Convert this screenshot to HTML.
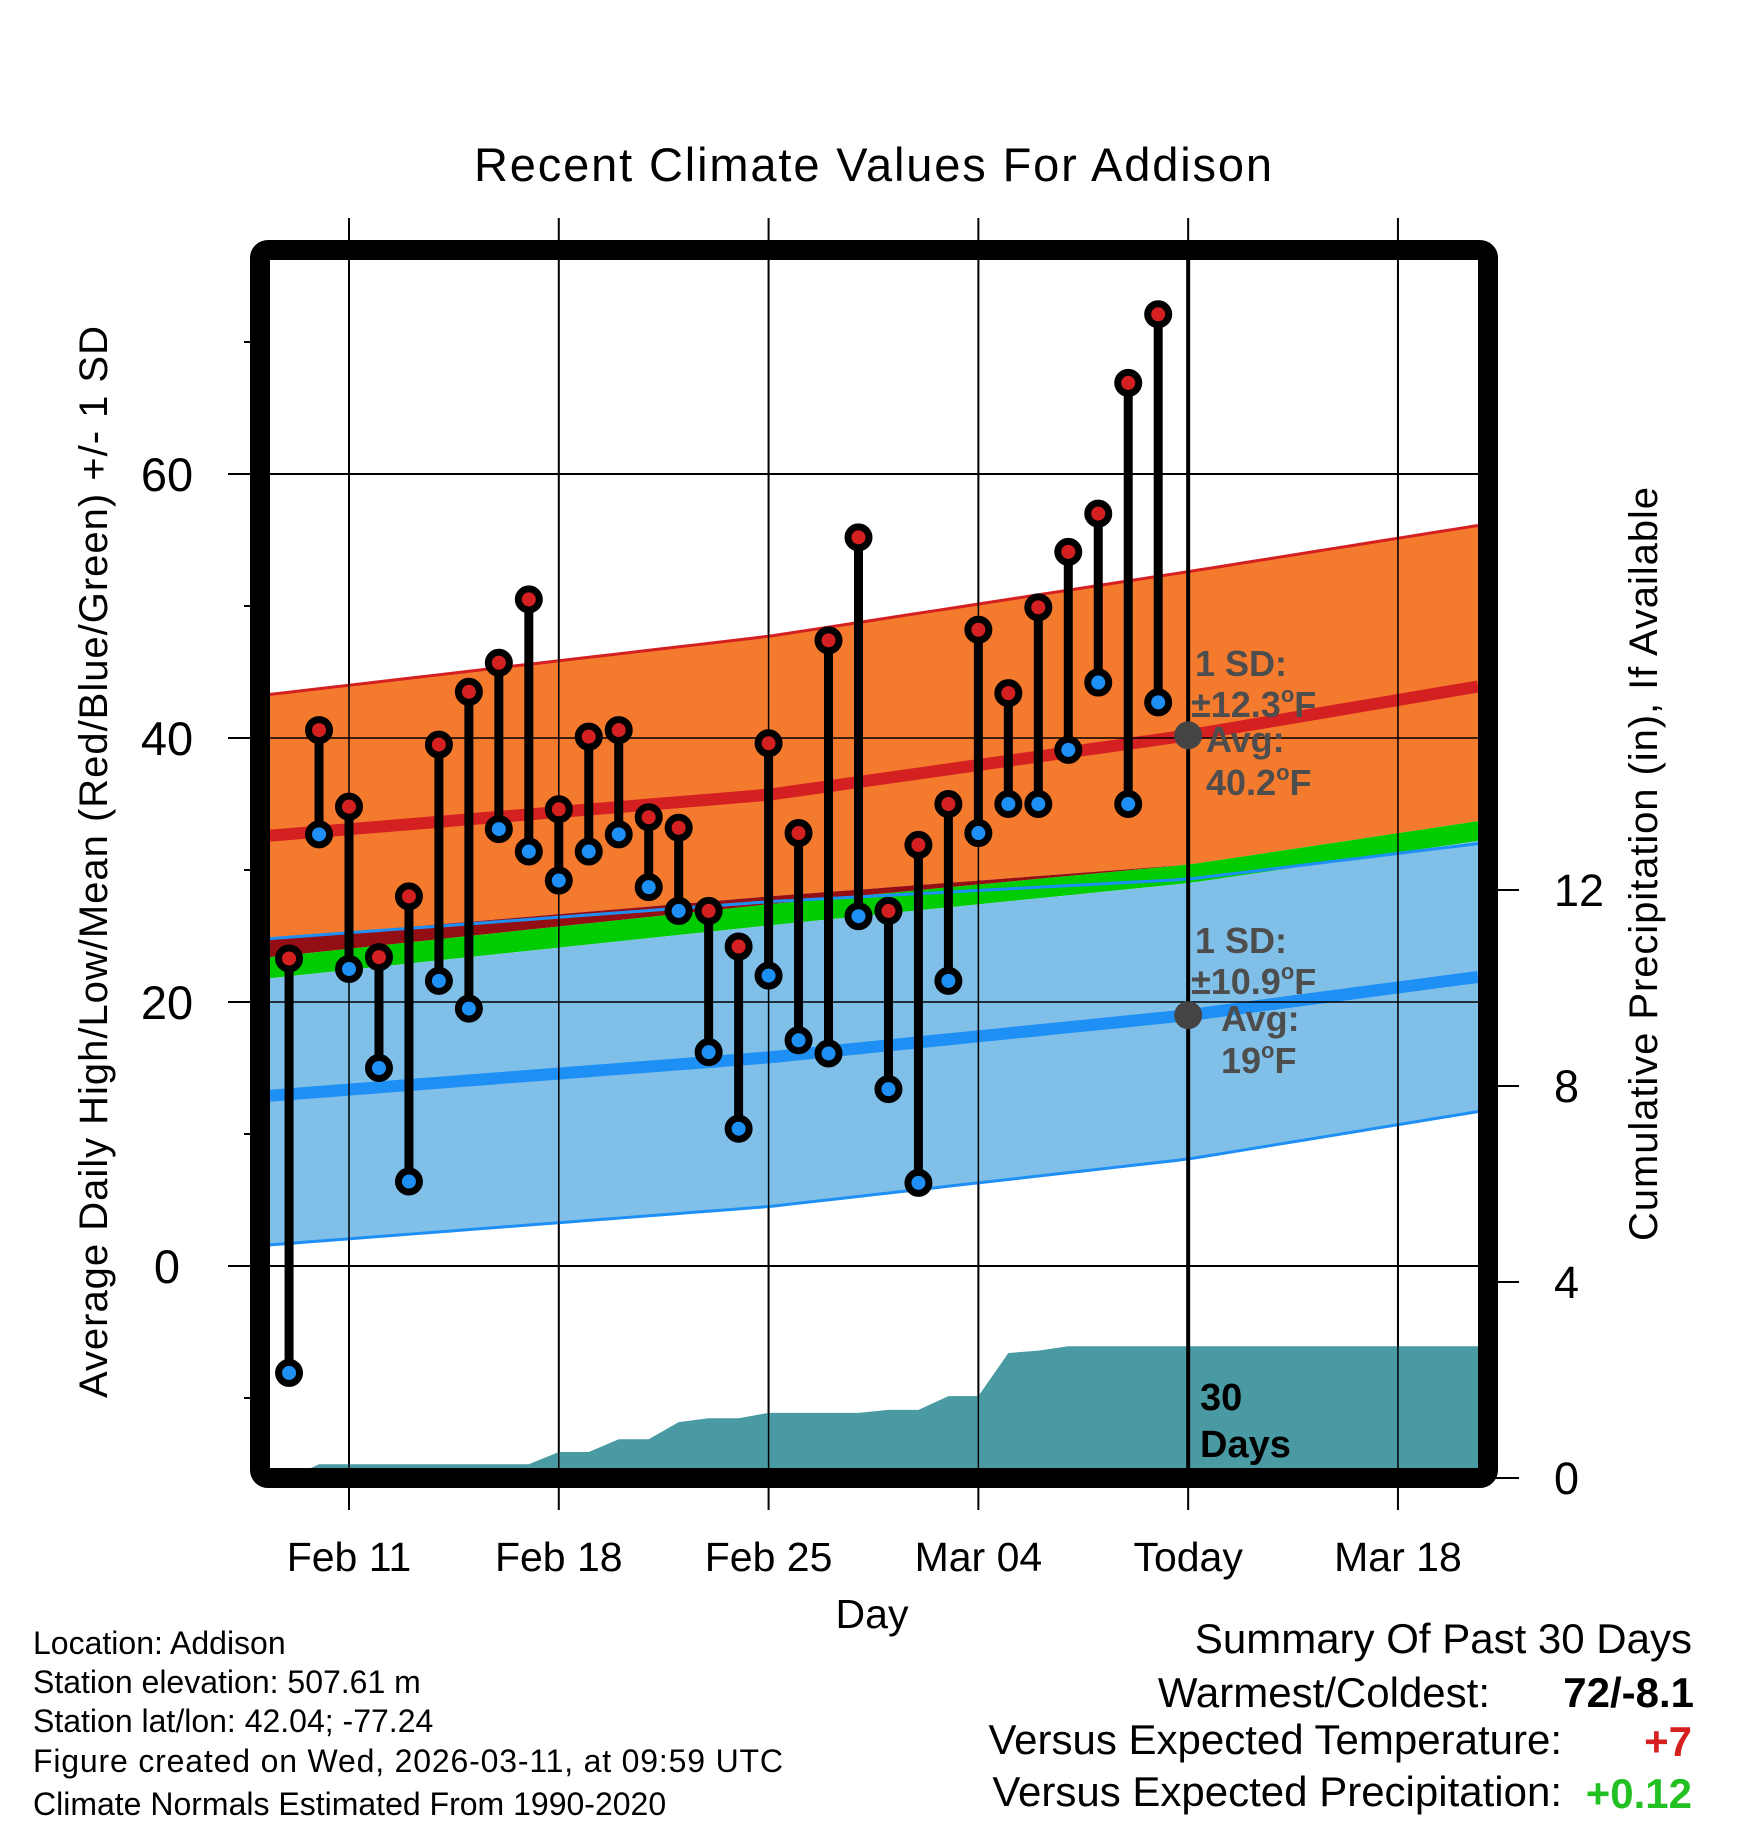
<!DOCTYPE html>
<html><head><meta charset="utf-8"><style>
html,body{margin:0;padding:0;background:#fff;}
svg{display:block;font-family:"Liberation Sans",sans-serif;}
</style></head><body>
<svg id="chart" width="1748" height="1828" viewBox="0 0 1748 1828" xmlns="http://www.w3.org/2000/svg">
<defs><clipPath id="plotclip"><rect x="270" y="260" width="1208" height="1208"/></clipPath></defs>
<text x="873" y="181" font-size="47" text-anchor="middle" textLength="798">Recent Climate Values For Addison</text>
<g id="grid"></g>
<g id="plot" clip-path="url(#plotclip)"></g>
<rect x="260" y="250" width="1228" height="1228" rx="8" fill="none" stroke="#000" stroke-width="20"/>
<g id="axes"></g>
<text transform="translate(107,862) rotate(-90)" font-size="40" text-anchor="middle" textLength="1072">Average Daily High/Low/Mean (Red/Blue/Green) +/- 1 SD</text>
<text transform="translate(1657,864) rotate(-90)" font-size="40" text-anchor="middle" textLength="754">Cumulative Precipitation (in), If Available</text>
<text x="872" y="1628" font-size="41" text-anchor="middle">Day</text>
<g font-size="32">
<text x="33" y="1654">Location: Addison</text>
<text x="33" y="1693">Station elevation: 507.61 m</text>
<text x="33" y="1732">Station lat/lon: 42.04; -77.24</text>
<text x="33" y="1772" textLength="750">Figure created on Wed, 2026-03-11, at 09:59 UTC</text>
<text x="33" y="1815">Climate Normals Estimated From 1990-2020</text>
</g>
<g font-size="42" text-anchor="end">
<text x="1692" y="1653">Summary Of Past 30 Days</text>
<text x="1490" y="1707">Warmest/Coldest:</text>
<text x="1694" y="1707" font-weight="bold">72/-8.1</text>
<text x="1562" y="1754">Versus Expected Temperature:</text>
<text x="1692" y="1756" font-weight="bold" fill="#d62020">+7</text>
<text x="1562" y="1806">Versus Expected Precipitation:</text>
<text x="1692" y="1808" font-weight="bold" fill="#22c022">+0.12</text>
</g>
</svg>
<script>
const NS="http://www.w3.org/2000/svg";
// data (day offsets relative to Feb 11)
const dayLabels=["Feb 11","Feb 18","Feb 25","Mar 04","Today","Mar 18"];
const labelDays=[0,7,14,21,28,35];
const obsDays=[-2,-1,0,1,2,3,4,5,6,7,8,9,10,11,12,13,14,15,16,17,18,19,20,21,22,23,24,25,26,27];
const highs=[23.3,40.6,34.8,23.4,28.0,39.5,43.5,45.7,50.5,34.6,40.1,40.6,34.0,33.2,26.9,24.2,39.6,32.8,47.4,55.2,26.9,31.9,35.0,48.2,43.4,49.9,54.1,57.0,66.9,72.1];
const lows=[-8.1,32.7,22.5,15.0,6.4,21.6,19.5,33.1,31.4,29.2,31.4,32.7,28.7,26.9,16.2,10.4,22.0,17.1,16.1,26.5,13.4,6.3,21.6,32.8,35.0,35.0,39.1,44.2,35.0,42.7];
const precip=[0.0,0.28,0.28,0.28,0.28,0.28,0.28,0.28,0.28,0.53,0.53,0.79,0.79,1.14,1.22,1.22,1.33,1.33,1.33,1.33,1.39,1.39,1.67,1.67,2.55,2.6,2.69,2.69,2.69,2.69];
const normDays=[-2.64,14,28,37.67];
const highUpper=[43.3,47.7,52.6,56.1];
const highMean=[32.6,35.7,40.2,43.9];
const bandA=[24.8,28.0,30.4,33.7];
const bandB=[23.4,27.4,30.4,33.7];
const bandC=[21.8,25.8,29.0,32.2];
const lowUpper=[24.8,27.6,29.3,32.0];
const lowMean=[12.9,15.8,19.0,21.9];
const lowLower=[1.6,4.5,8.1,11.7];
const yTicks=[0,20,40,60];
const yMinor=[-10,10,30,50,70];
const pTicks=[0,4,8,12];
const todayDay=28;

const X=d=>349+d*29.97;
const Y=t=>1266-13.2*t;
const P=p=>1478-49*p;
function mk(tag,attrs,parent){const e=document.createElementNS(NS,tag);for(const k in attrs)e.setAttribute(k,attrs[k]);parent.appendChild(e);return e;}
function curve(arr,n){const pts=[];for(let i=0;i<=n;i++){const d=normDays[0]+(normDays[3]-normDays[0])*i/n;let k=0;while(k<normDays.length-2&&d>normDays[k+1])k++;const f=(d-normDays[k])/(normDays[k+1]-normDays[k]);pts.push([X(d),Y(arr[k]+(arr[k+1]-arr[k])*f)]);}return pts;}
function band(top,bot){const a=curve(top,60),b=curve(bot,60).reverse();return a.concat(b).map(p=>p.join(',')).join(' ');}
function line(arr){return curve(arr,60).map(p=>p.join(',')).join(' ');}

const grid=document.getElementById('grid'),plot=document.getElementById('plot'),axes=document.getElementById('axes');
let e;
e=mk('polygon',{points:band(highUpper,bandA),fill:'#f47a2e'},plot);


e=mk('polygon',{points:band(bandA,bandB),fill:'#930f14'},plot);


e=mk('polygon',{points:band(bandB,bandC),fill:'#00cc00'},plot);


e=mk('polygon',{points:band(bandC,lowLower),fill:'#80c0e8'},plot);


e=mk('polyline',{points:line(highUpper),fill:'none',stroke:'#d42020','stroke-width':3},plot);


e=mk('polyline',{points:line(lowUpper),fill:'none',stroke:'#1e8ff5','stroke-width':3},plot);


e=mk('polyline',{points:line(lowLower),fill:'none',stroke:'#1e8ff5','stroke-width':3},plot);


e=mk('polyline',{points:line(highMean),fill:'none',stroke:'#d42020','stroke-width':12},plot);


e=mk('polyline',{points:line(lowMean),fill:'none',stroke:'#1e8ff5','stroke-width':12},plot);


// precip
let pp=[[X(obsDays[0]),P(0)]];
obsDays.forEach((d,i)=>pp.push([X(d),P(precip[i])]));
pp.push([1480,P(precip[precip.length-1])]);pp.push([1480,P(0)]);
e=mk('polygon',{points:pp.map(p=>p.join(',')).join(' '),fill:'#4a9aa3'},plot);


labelDays.forEach((d,i)=>{
 const g=mk('line',{x1:X(d),x2:X(d),y1:218,y2:1510,stroke:'#000','stroke-width':2},grid);
 
 
 const t=mk('text',{x:X(d),y:1571,'font-size':41,'text-anchor':'middle'},axes);t.textContent=dayLabels[i];
 
 
});
yTicks.forEach(v=>{
 const g=mk('line',{x1:228,x2:1478,y1:Y(v),y2:Y(v),stroke:'#000','stroke-width':2},grid);
 
 
 const t=mk('text',{x:167,y:Y(v)+17,'font-size':47,'text-anchor':'middle'},axes);t.textContent=v;
 
 
});
yMinor.forEach(v=>{
 const g=mk('line',{x1:244,x2:260,y1:Y(v),y2:Y(v),stroke:'#000','stroke-width':2},grid);
 
 
});
pTicks.forEach(v=>{
 const g=mk('line',{x1:1490,x2:1519,y1:P(v),y2:P(v),stroke:'#000','stroke-width':2},axes);
 
 
 const t=mk('text',{x:1554,y:P(v)+16,'font-size':45},axes);t.textContent=v;
 
 
});
labelDays.forEach(d=>{mk('line',{x1:X(d),x2:X(d),y1:260,y2:1468,stroke:'#000','stroke-width':1.5},plot);});
yTicks.forEach(v=>{mk('line',{x1:270,x2:1478,y1:Y(v),y2:Y(v),stroke:'#000','stroke-width':1.5},plot);});
e=mk('line',{x1:X(todayDay),x2:X(todayDay),y1:260,y2:1468,stroke:'#000','stroke-width':4},plot);


obsDays.forEach((d,i)=>{
 const s=mk('line',{x1:X(d),x2:X(d),y1:Y(highs[i]),y2:Y(lows[i]),stroke:'#000','stroke-width':9},plot);
 
 
});
obsDays.forEach((d,i)=>{
 const h=mk('circle',{cx:X(d),cy:Y(highs[i]),r:10.5,fill:'#d42020',stroke:'#000','stroke-width':7},plot);
 
 
 const l=mk('circle',{cx:X(d),cy:Y(lows[i]),r:10.5,fill:'#1e8ff5',stroke:'#000','stroke-width':7},plot);
 
 
});
e=mk('circle',{cx:X(todayDay),cy:Y(highMean[2]),r:14,fill:'#444'},plot);


e=mk('circle',{cx:X(todayDay),cy:Y(lowMean[2]),r:14,fill:'#444'},plot);


const ann=[["1 SD:",1195,676],["±12.3","°F",1191,717],["Avg:",1206,752],["40.2","°F",1206,795],["1 SD:",1195,953],["±10.9","°F",1191,994],["Avg:",1221,1031],["19","°F",1221,1073]];
ann.forEach(a=>{
 const t=mk('text',{x:a.length===3?a[1]:a[2],y:a.length===3?a[2]:a[3],'font-size':36,'font-weight':'bold',fill:'#4d4d4d'},plot);
 
 
 if(a.length===3){t.textContent=a[0];}else{t.textContent=a[0];const o=mk('tspan',{'font-size':22,dy:-15},t);o.textContent='o';const f=mk('tspan',{dy:15},t);f.textContent='F';}
});
e=mk('text',{x:1200,y:1410,'font-size':38,'font-weight':'bold'},plot);e.textContent='30';


e=mk('text',{x:1200,y:1457,'font-size':38,'font-weight':'bold'},plot);e.textContent='Days';


</script>
</body></html>
